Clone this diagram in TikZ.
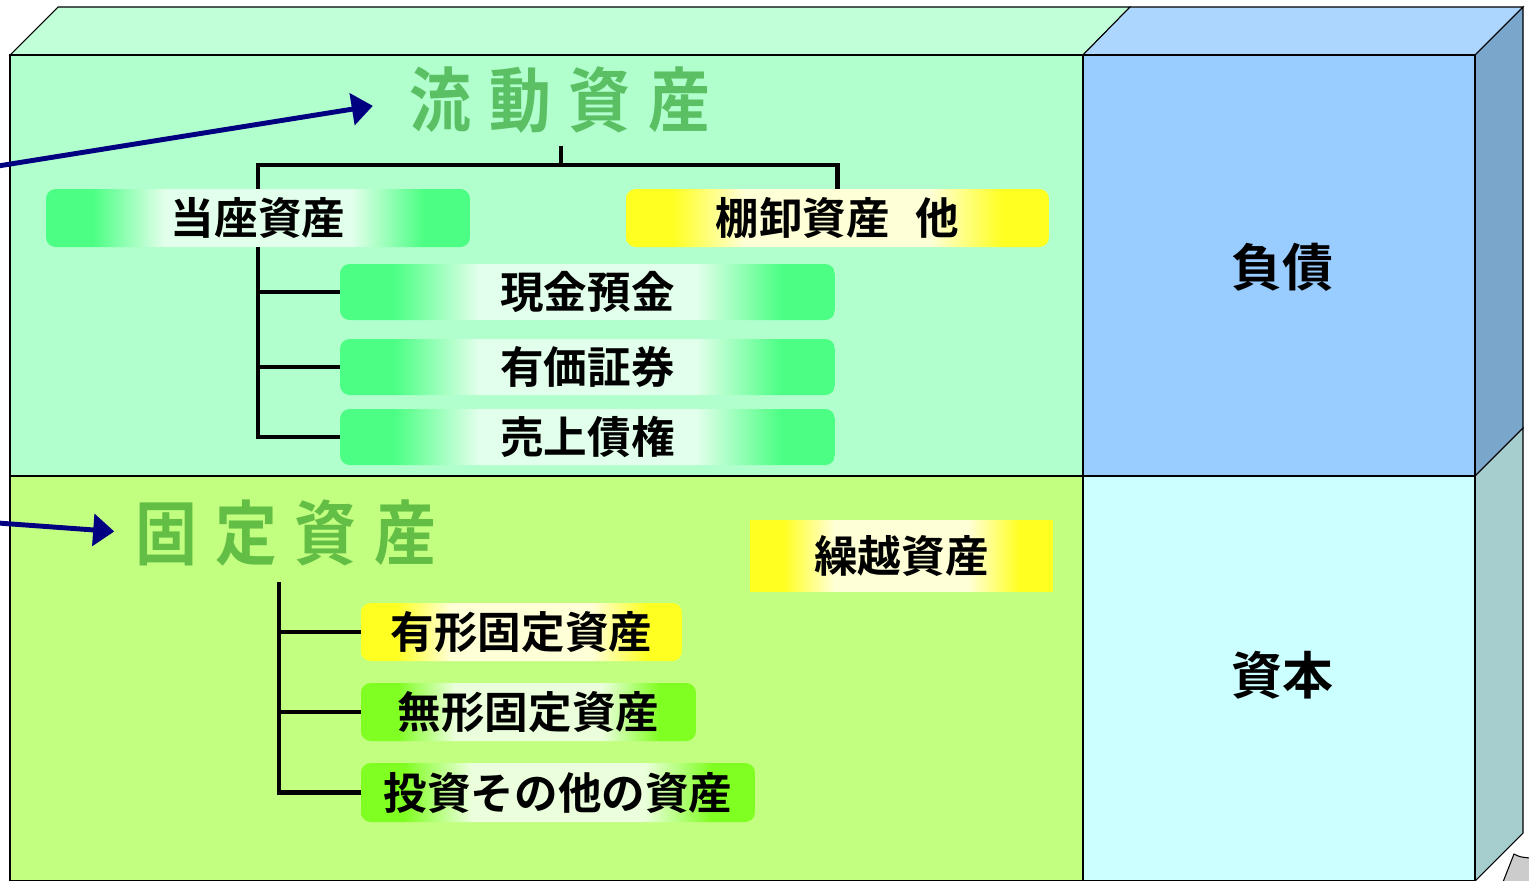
\documentclass[tikz,border=0pt]{standalone}
\usepackage{fontspec}
\setmainfont{Noto Sans CJK JP}[BoldFont={Noto Sans CJK JP Bold}]
\usetikzlibrary{arrows.meta, positioning}

\definecolor{topgreen}{HTML}{C0FFD8}
\definecolor{ryudogreen}{HTML}{B0FFCC}
\definecolor{koteilime}{HTML}{C2FF80}
\definecolor{fusaiblue}{HTML}{99CCFF}
\definecolor{topblue}{HTML}{ADD6FF}
\definecolor{sideblue}{HTML}{7BA6CC}
\definecolor{shihoncyan}{HTML}{CCFFFF}
\definecolor{sidecyan}{HTML}{A6CECE}
\definecolor{titlegreenA}{HTML}{5BC064}
\definecolor{titlegreenB}{HTML}{62BE44}
\definecolor{boxgreen}{HTML}{4CFF84}
\definecolor{boxyellow}{HTML}{FFFF22}
\definecolor{boxlime}{HTML}{80FF22}
\definecolor{arrnavy}{HTML}{000080}
\colorlet{palegreen}{boxgreen!16!white}
\colorlet{paleyellow}{boxyellow!18!white}
\colorlet{palelime}{boxlime!16!white}

\pgfdeclarehorizontalshading{greenglow}{100bp}{color(0bp)=(boxgreen); color(30.5bp)=(boxgreen); color(39bp)=(palegreen); color(61bp)=(palegreen); color(69.5bp)=(boxgreen); color(100bp)=(boxgreen)}
\pgfdeclarehorizontalshading{yellowglow}{100bp}{color(0bp)=(boxyellow); color(30.5bp)=(boxyellow); color(39bp)=(paleyellow); color(61bp)=(paleyellow); color(69.5bp)=(boxyellow); color(100bp)=(boxyellow)}
\pgfdeclarehorizontalshading{limeglow}{100bp}{color(0bp)=(boxlime); color(30.5bp)=(boxlime); color(39bp)=(palelime); color(61bp)=(palelime); color(69.5bp)=(boxlime); color(100bp)=(boxlime)}

\newcommand{\spacedtitle}[4]{\scalebox{0.88}[1]{#1\kern11.5pt #2\kern11.5pt #3\kern11.5pt #4}}

\begin{document}
\begin{tikzpicture}[x=0.02cm, y=-0.02cm,
  face/.style={draw=black, line width=0.6pt},
  title/.style={inner sep=0pt, font=\bfseries\fontsize{40}{44}\selectfont},
  label/.style={inner sep=0pt, font=\bfseries\fontsize{29}{32}\selectfont},
  item/.style={inner sep=0pt, font=\bfseries\fontsize{24.8}{27}\selectfont, rounded corners=5.5pt, minimum height=1.16cm},
  greenitem/.style={item, shading=greenglow},
  yellowitem/.style={item, shading=yellowglow},
  limeitem/.style={item, shading=limeglow},
  tree/.style={line width=2.3pt},
  arr/.style={draw=arrnavy, line width=2.8pt, -{Triangle[length=12pt, width=18pt]}}]
\useasboundingbox (0,0) rectangle (1529,880);

% box faces
\filldraw[face, fill=topgreen] (10,55) -- (58,7) -- (1130,7) -- (1083,55) -- cycle;
\filldraw[face, fill=topblue] (1083,55) -- (1130,7) -- (1523,7) -- (1475,55) -- cycle;
\filldraw[face, fill=sideblue] (1475,55) -- (1523,7) -- (1523,428) -- (1475,476) -- cycle;
\filldraw[face, fill=sidecyan] (1475,476) -- (1523,428) -- (1523,833) -- (1475,881) -- cycle;
\filldraw[face, fill=ryudogreen] (10,55) rectangle (1083,476);
\filldraw[face, fill=koteilime] (10,476) rectangle (1083,881);
\filldraw[face, fill=fusaiblue] (1083,55) rectangle (1475,476);
\filldraw[face, fill=shihoncyan] (1083,476) rectangle (1475,881);
\filldraw[face, fill=black!20] (1503,882) -- (1514,854) .. controls (1520,857) .. (1530,858) -- (1530,882) -- cycle;

% right side
\node[label] (fusai) at (1282,267) {負債};
\node[label] (shihon) at (1282,675) {資本};

% current assets
\node[title, text=titlegreenA] (ryudo) at (560,100) {\spacedtitle{流}{動}{資}{産}};
\coordinate (ryudoStem) at (561,146);
\coordinate (ryudoJoint) at (561,165);
\node[greenitem, minimum width=8.48cm] (toza) at (258,218) {当座資産};
\node[yellowitem, minimum width=8.46cm] (tana) at (837.5,218) {棚卸資産\hspace{0.6em}他};
\node[greenitem, minimum width=9.9cm, minimum height=1.12cm] (genkin) at (587.5,292) {現金預金};
\node[greenitem, minimum width=9.9cm, minimum height=1.12cm] (yuka) at (587.5,367) {有価証券};
\node[greenitem, minimum width=9.9cm, minimum height=1.12cm] (uri) at (587.5,437) {売上債権};

\draw[tree] (ryudoStem) -- (ryudoJoint);
\draw[tree] (toza.north) |- (ryudoJoint) -| (tana.north);
\draw[tree] (toza.south) |- (genkin.west);
\draw[tree] (toza.south) |- (yuka.west);
\draw[tree] (toza.south) |- (uri.west);

% fixed assets
\node[title, text=titlegreenB] (kotei) at (286,533) {\spacedtitle{固}{定}{資}{産}};
\coordinate (koteiStem) at (279,582);
\node[yellowitem, rounded corners=0pt, minimum width=6.06cm, minimum height=1.42cm] (kuri) at (901.5,556) {繰越資産};
\node[yellowitem, minimum width=6.42cm] (yukei) at (521.5,632) {有形固定資産};
\node[limeitem, minimum width=6.7cm] (mukei) at (528.5,712) {無形固定資産};
\node[limeitem, minimum width=7.88cm, minimum height=1.18cm] (toshi) at (558,792.5) {投資その他の資産};

\draw[tree] (koteiStem) |- (yukei.west);
\draw[tree] (koteiStem) |- (mukei.west);
\draw[tree] (koteiStem) |- (toshi.west);

% arrows from the left
\coordinate (fromA) at (-2,166);
\coordinate (fromB) at (-2,523);
\draw[arr, shorten >=21pt] (fromA) -- (ryudo.west);
\draw[arr, shorten >=12pt] (fromB) -- (kotei.west);
\end{tikzpicture}
\end{document}
